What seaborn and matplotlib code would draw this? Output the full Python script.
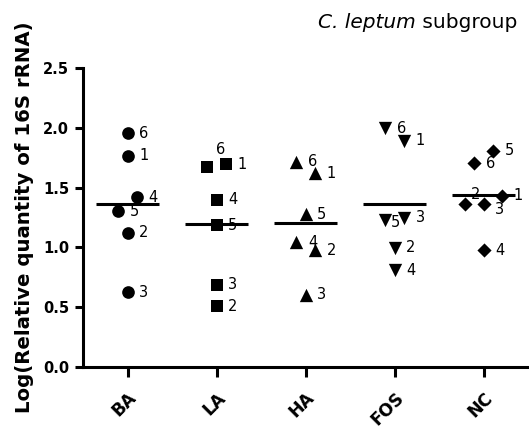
import numpy as np
import pandas as pd
import matplotlib
matplotlib.use("Agg")
import matplotlib.pyplot as plt
import seaborn as sns

# Log relative quantity per animal, listed per diet group
groups = ["BA", "LA", "HA", "FOS", "NC"]

ba_ids = ["6", "1", "5", "4", "2", "3"]
ba_vals = [1.955, 1.765, 1.302, 1.418, 1.123, 0.624]

la_ids = ["6", "1", "4", "5", "3", "2"]
la_vals = [1.675, 1.695, 1.400, 1.185, 0.689, 0.507]

ha_ids = ["6", "1", "5", "4", "2", "3"]
ha_vals = [1.717, 1.619, 1.277, 1.045, 0.975, 0.605]

fos_ids = ["6", "1", "5", "3", "2", "4"]
fos_vals = [1.997, 1.893, 1.233, 1.250, 0.997, 0.807]

nc_ids = ["6", "5", "2", "3", "1", "4"]
nc_vals = [1.703, 1.807, 1.361, 1.361, 1.431, 0.975]

y_ticks = [0.0, 0.5, 1.0, 1.5, 2.0, 2.5]

ids_by_group = [ba_ids, la_ids, ha_ids, fos_ids, nc_ids]
vals_by_group = [ba_vals, la_vals, ha_vals, fos_vals, nc_vals]

df = pd.concat(
    [pd.DataFrame({"group": g, "animal": i, "value": v})
     for g, i, v in zip(groups, ids_by_group, vals_by_group)],
    ignore_index=True,
)

# ---- styling ----
sns.set_style("ticks")
plt.rcParams["font.family"] = ["DejaVu Sans"]

W, H = 529, 430
fig = plt.figure(figsize=(W / 100, H / 100), dpi=100)
ax = fig.add_axes([83 / W, 1 - 367 / H, 445 / W, 299 / H])
ax.set_xlim(-0.5, len(groups) - 0.5)
ax.set_ylim(0, 2.5)

# pixel scale of the data axes, used to spread coincident points
x_px = ax.bbox.width / (ax.get_xlim()[1] - ax.get_xlim()[0])
y_px = ax.bbox.height / (ax.get_ylim()[1] - ax.get_ylim()[0])


def spread_offsets(vals, gap_px=17.0, step_px=18.5):
    """Side-by-side offsets (in x data units) for points that crowd vertically."""
    n = len(vals)
    order = sorted(range(n), key=lambda i: -vals[i])
    clusters, cur = [], [order[0]]
    for a, b in zip(order, order[1:]):
        if (vals[a] - vals[b]) * y_px < gap_px:
            cur.append(b)
        else:
            clusters.append(cur)
            cur = [b]
    clusters.append(cur)
    off = np.zeros(n)
    for c in clusters:
        c = sorted(c)
        m = len(c)
        for k, i in enumerate(c):
            off[i] = (k - (m - 1) / 2) * step_px / x_px
    return off


xpos = []
for gi, vals in enumerate(vals_by_group):
    xpos.extend(gi + spread_offsets(vals))
df["xpos"] = xpos

markers = {"BA": "o", "LA": "s", "HA": "^", "FOS": "v", "NC": "D"}
sizes = {"BA": 83, "LA": 80, "HA": 92, "FOS": 92, "NC": 52}

for g in groups:
    sub = df[df["group"] == g]
    sns.scatterplot(data=sub, x="xpos", y="value", marker=markers[g],
                    s=sizes[g], color="black", linewidth=0, ax=ax,
                    legend=False, zorder=3, clip_on=False)

# animal labels next to each point (offsets in points)
default_off = (11.8, 0.0)
special_off = {("LA", "6"): (9.6, 12.7), ("FOS", "5"): (7.2, -2.4),
               ("NC", "2"): (7.6, 7.0), ("NC", "3"): (11.5, -3.6)}
for _, r in df.iterrows():
    off = special_off.get((r["group"], r["animal"]), default_off)
    ax.annotate(r["animal"], xy=(r["xpos"], r["value"]), xytext=off,
                textcoords="offset points", ha="center", va="center",
                fontsize=10.5, color="black", zorder=2)

# group means as horizontal bars
means = df.groupby("group", sort=False)["value"].mean().reindex(groups)
ax.hlines(means.values, np.arange(len(groups)) - 0.35,
          np.arange(len(groups)) + 0.35, colors="black", lw=2.2, zorder=4)

# axes
for s in ["top", "right"]:
    ax.spines[s].set_visible(False)
for s in ["left", "bottom"]:
    ax.spines[s].set_linewidth(2.2)
    ax.spines[s].set_color("black")

ax.set_yticks(y_ticks)
ax.set_yticklabels([f"{t:.1f}" for t in y_ticks], fontsize=10.5,
                   fontweight="bold")
ax.set_xticks(range(len(groups)))
ax.set_xticklabels(groups, fontsize=12.3, fontweight="bold", rotation=45,
                   ha="right", va="top", rotation_mode="anchor")
ax.tick_params(axis="y", length=6, width=2.2, pad=4, colors="black")
ax.tick_params(axis="x", length=7, width=2.2, pad=8.5, colors="black")

ax.set_xlabel("")
ax.set_ylabel("Log(Relative quantity of 16S rRNA)", fontsize=14.2,
              fontweight="bold", color="black")
ax.yaxis.label.set_verticalalignment("center")
ax.yaxis.set_label_coords((24.5 - 83) / 445, 0.5)

# panel title: italic genus part followed by plain text
t_sub = fig.text(517 / W, 1 - 22 / H, " subgroup", ha="right",
                 va="center", fontsize=14.5, color="black")
ax.annotate("C. leptum", xy=(0, 0.5), xycoords=t_sub, ha="right",
            va="center", fontsize=14.5, style="italic", color="black",
            annotation_clip=False)

fig.savefig("out.png", dpi=100)
